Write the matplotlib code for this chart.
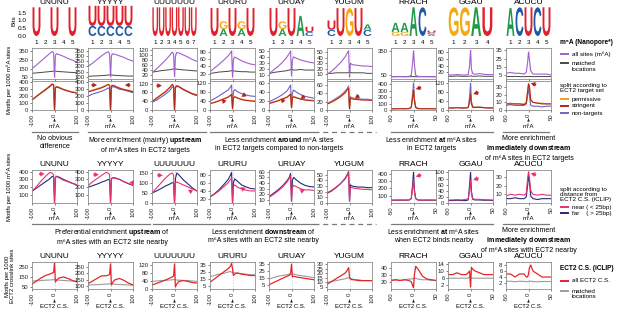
import matplotlib
matplotlib.use("Agg")
import matplotlib.pyplot as plt
from matplotlib.lines import Line2D
from matplotlib.textpath import TextPath
from matplotlib.patches import PathPatch, FancyArrowPatch
from matplotlib.font_manager import FontProperties
from matplotlib.transforms import Affine2D

plt.rcParams['font.family'] = ['Liberation Sans', 'DejaVu Sans']
plt.rcParams['mathtext.fontset'] = 'custom'
plt.rcParams['mathtext.rm'] = 'Liberation Sans'
plt.rcParams['mathtext.bf'] = 'Liberation Sans:bold'

W, H = 617, 313

MOTIFS = ["UNUNU", "YYYYY", "UUUUUUU", "URURU", "URUAY", "YUGUM", "RRACH", "GGAU", "ACUCU"]

# sequence logo stacks, bottom to top: (letter, bits)
LOGOS = [
    [[("U", 1.85)], [], [("U", 1.85)], [], [("U", 1.85)]],
    [[("C", 0.65), ("U", 1.3)]] * 5,
    [[("U", 1.85)]] * 7,
    [[("U", 1.8)], [("A", 0.45), ("G", 0.5)], [("U", 1.8)], [("A", 0.45), ("G", 0.5)], [("U", 1.8)]],
    [[("U", 1.8)], [("A", 0.45), ("G", 0.5)], [("U", 1.8)], [("A", 1.3)], [("C", 0.25), ("U", 0.35)]],
    [[("C", 0.4), ("U", 0.6)], [("U", 1.8)], [("G", 1.8)], [("U", 1.8)], [("C", 0.4), ("A", 0.35)]],
    [[("G", 0.25), ("A", 0.6)], [("G", 0.25), ("A", 0.6)], [("A", 1.85)], [("C", 1.85)],
     [("A", 0.1), ("C", 0.1), ("U", 0.15)]],
    [[("G", 1.85)], [("G", 1.85)], [("A", 1.85)], [("U", 1.85)]],
    [[("A", 1.8)], [("C", 1.85)], [("U", 1.85)], [("C", 1.85)], [("U", 1.85)]],
]
LETTER_COLORS = {"U": "#e0202a", "C": "#1d5aa6", "G": "#f5a90f", "A": "#1f9a48"}

XL = [-100, -80, -60, -40, -20, -10, -4, 0, 4, 10, 20, 40, 60, 80, 100]
XS = [-50, -40, -30, -20, -10, -5, -2, 0, 2, 5, 10, 20, 30, 40, 50]

# row 1, upper panels: all m6A sites vs matched locations
ALL_SITES = [
    [150, 190, 235, 280, 325, 345, 330, 50, 300, 320, 310, 290, 265, 245, 220],
    [200, 230, 265, 300, 330, 340, 320, 100, 300, 320, 315, 300, 285, 265, 250],
    [30, 45, 62, 80, 100, 112, 105, 15, 95, 110, 108, 100, 92, 82, 75],
    [25, 35, 45, 56, 68, 76, 82, 10, 60, 65, 62, 55, 50, 46, 44],
    [12, 18, 24, 31, 40, 46, 50, 8, 35, 40, 38, 35, 33, 31, 30],
    [10, 16, 23, 31, 41, 48, 52, 5, 30, 28, 27, 26, 25, 25, 24],
    [30, 30, 31, 30, 32, 45, 200, 350, 180, 45, 32, 30, 31, 30, 30],
    [12, 12, 13, 12, 12, 14, 40, 85, 30, 16, 14, 16, 14, 13, 13],
    [7, 8, 7, 7, 6, 8, 20, 33, 24, 10, 6, 6, 6, 6, 5],
]
MATCHED_M6A = [
    [95, 100, 105, 110, 115, 118, 120, 120, 120, 118, 115, 112, 108, 105, 100],
    [105, 108, 110, 112, 115, 118, 120, 120, 118, 117, 115, 112, 110, 108, 108],
    [32, 35, 38, 40, 42, 44, 45, 45, 45, 44, 43, 41, 40, 38, 37],
    [20, 22, 24, 25, 26, 27, 28, 28, 27, 27, 26, 25, 25, 24, 24],
    [12, 14, 15, 16, 17, 18, 19, 19, 19, 18, 18, 19, 18, 18, 18],
    [12, 12, 13, 13, 13, 13, 14, 14, 14, 13, 13, 13, 13, 12, 12],
    [28, 28, 29, 28, 28, 29, 30, 30, 29, 28, 28, 29, 28, 28, 28],
    [8, 8, 9, 8, 8, 8, 9, 9, 9, 8, 8, 9, 8, 8, 8],
    [3, 3, 3.2, 3, 2.8, 3, 3, 3.2, 3, 3, 2.9, 3, 3, 3, 3],
]

# row 1, lower panels: split by ECT2 target set
PERMISSIVE = [
    [150, 200, 250, 300, 350, 380, 370, 0, 330, 340, 330, 300, 280, 260, 250],
    [270, 290, 310, 330, 360, 375, 360, 0, 350, 360, 350, 320, 300, 285, 270],
    [40, 55, 70, 85, 105, 118, 110, 0, 105, 112, 108, 95, 85, 75, 70],
    [30, 35, 42, 50, 58, 65, 70, 5, 55, 60, 55, 48, 44, 42, 40],
    [15, 18, 21, 25, 29, 33, 36, 5, 28, 30, 28, 25, 23, 22, 21],
    [15, 20, 26, 33, 42, 50, 55, 3, 30, 28, 27, 26, 25, 25, 24],
    [20, 20, 21, 20, 22, 40, 200, 330, 150, 40, 22, 20, 21, 20, 20],
    [10, 10, 11, 10, 10, 12, 40, 75, 30, 14, 12, 13, 11, 10, 10],
    [8, 9, 8, 8, 8, 10, 25, 35, 32, 14, 10, 9, 9, 8, 8],
]
STRINGENT = [
    [145, 195, 245, 295, 345, 375, 365, 0, 325, 335, 325, 295, 275, 255, 245],
    [260, 280, 300, 320, 350, 370, 355, 0, 345, 355, 345, 315, 295, 280, 265],
    [38, 53, 68, 83, 103, 116, 108, 0, 103, 110, 106, 93, 83, 73, 68],
    [28, 33, 40, 48, 56, 63, 68, 5, 53, 58, 53, 46, 42, 40, 38],
    [14, 17, 20, 24, 28, 32, 35, 5, 27, 29, 27, 24, 22, 21, 20],
    [14, 19, 25, 32, 41, 49, 53, 3, 29, 27, 26, 25, 24, 24, 23],
    [19, 19, 20, 19, 21, 38, 190, 310, 140, 38, 21, 19, 20, 19, 19],
    [9, 9, 10, 9, 9, 11, 38, 72, 28, 13, 11, 12, 10, 9, 9],
    [8, 8, 8, 8, 7, 9, 24, 34, 31, 13, 10, 9, 8, 8, 8],
]
NON_TARGETS = [
    [150, 200, 245, 290, 340, 370, 360, 0, 320, 330, 320, 295, 275, 260, 250],
    [200, 230, 250, 270, 300, 320, 300, 0, 320, 340, 330, 300, 290, 270, 250],
    [35, 45, 58, 72, 90, 105, 100, 0, 100, 108, 105, 92, 82, 72, 65],
    [40, 50, 62, 75, 88, 100, 110, 10, 80, 90, 82, 72, 66, 62, 60],
    [18, 23, 28, 34, 42, 50, 55, 5, 38, 44, 40, 34, 30, 28, 26],
    [16, 21, 28, 35, 45, 52, 58, 3, 32, 30, 28, 27, 26, 26, 25],
    [22, 22, 23, 22, 24, 45, 250, 420, 180, 45, 24, 22, 23, 22, 22],
    [10, 10, 11, 10, 10, 12, 60, 120, 40, 14, 12, 13, 11, 10, 10],
    [6, 7, 6, 6, 6, 8, 18, 30, 20, 6, 5, 5, 4, 5, 5],
]

# row 2: split by distance from ECT2 crosslink site
NEAR = [
    [150, 210, 280, 340, 390, 380, 360, 0, 330, 340, 320, 290, 270, 250, 230],
    [220, 270, 310, 350, 390, 380, 360, 0, 310, 320, 315, 300, 270, 250, 230],
    [50, 75, 100, 125, 145, 150, 140, 0, 100, 105, 100, 90, 80, 70, 60],
    [25, 32, 40, 50, 60, 68, 72, 10, 50, 55, 50, 45, 42, 40, 40],
    [15, 20, 26, 33, 42, 48, 53, 8, 32, 36, 34, 30, 28, 28, 27],
    [18, 22, 28, 34, 42, 48, 53, 3, 28, 27, 26, 25, 24, 24, 23],
    [40, 40, 41, 40, 42, 60, 200, 320, 150, 60, 42, 40, 41, 40, 40],
    [10, 10, 11, 10, 12, 14, 40, 75, 30, 14, 12, 12, 11, 10, 10],
    [8, 10, 9, 10, 9, 11, 28, 36, 30, 14, 10, 9, 10, 9, 9],
]
FAR = [
    [150, 190, 230, 270, 310, 340, 330, 0, 320, 340, 330, 300, 275, 250, 230],
    [200, 220, 240, 265, 285, 300, 290, 0, 310, 320, 320, 300, 270, 245, 225],
    [50, 60, 72, 85, 95, 102, 100, 0, 120, 150, 140, 115, 95, 75, 60],
    [25, 33, 43, 55, 68, 78, 86, 10, 60, 70, 65, 55, 50, 46, 45],
    [16, 22, 28, 35, 44, 50, 57, 8, 45, 50, 46, 40, 36, 34, 33],
    [17, 21, 27, 34, 43, 50, 55, 3, 32, 30, 29, 28, 28, 27, 27],
    [38, 38, 39, 38, 40, 60, 250, 420, 180, 60, 40, 38, 39, 38, 38],
    [8, 8, 9, 8, 8, 10, 60, 100, 40, 12, 10, 10, 9, 9, 8],
    [5, 5, 6, 5, 5, 7, 20, 31, 25, 8, 5, 4, 5, 5, 5],
]

# row 3: around ECT2 crosslink sites
ALL_CS = [
    [80, 110, 140, 165, 180, 190, 195, 290, 100, 120, 140, 150, 135, 115, 100],
    [120, 140, 160, 180, 180, 185, 190, 270, 110, 130, 150, 160, 145, 125, 110],
    [20, 28, 36, 45, 55, 60, 65, 125, 10, 25, 38, 42, 38, 32, 30],
    [10, 15, 20, 25, 30, 33, 38, 30, 20, 22, 24, 22, 21, 20, 20],
    [6, 9, 12, 15, 18, 19, 22, 35, 17, 18, 17, 16, 15, 14, 13],
    [8, 11, 14, 17, 20, 23, 26, 16, 14, 13, 13, 12, 12, 12, 12],
    [22, 23, 22, 23, 22, 20, 15, 12, 30, 42, 38, 28, 24, 23, 22],
    [8, 8, 9, 8, 8, 9, 10, 1, 12, 11, 10, 9, 8, 8, 8],
    [5, 5, 4, 5, 5, 4, 4, 5, 7, 8, 6, 5, 4, 4, 4],
]
MATCHED_CS = [
    [110, 112, 115, 118, 120, 122, 123, 122, 122, 120, 118, 115, 112, 110, 108],
    [110, 112, 113, 115, 117, 118, 120, 120, 119, 118, 116, 114, 112, 110, 110],
    [38, 40, 42, 43, 45, 46, 47, 47, 46, 45, 44, 43, 42, 40, 38],
    [18, 20, 22, 23, 25, 26, 25, 24, 25, 24, 23, 23, 22, 21, 21],
    [14, 16, 18, 19, 20, 21, 21, 20, 21, 21, 20, 19, 18, 17, 16],
    [10, 11, 12, 13, 14, 15, 15, 14, 14, 14, 13, 13, 12, 12, 12],
    [22, 23, 22, 23, 24, 24, 25, 24, 25, 25, 24, 23, 23, 22, 22],
    [6, 6, 6, 6, 6, 6, 7, 6, 6, 6, 6, 6, 6, 6, 6],
    [2.5, 2.6, 2.4, 2.6, 2.5, 2.5, 2.4, 2.5, 2.6, 2.6, 2.5, 2.4, 2.5, 2.5, 2.5],
]

A_TICKS = [[50, 150, 250, 350], [100, 150, 200, 250, 300, 350], [20, 40, 60, 80, 100, 120],
           [20, 40, 60, 80], [10, 20, 30, 40, 50], [10, 20, 30, 40, 50], [50, 350],
           [20, 40, 60, 80], [5, 15, 25, 35]]
A_YLIM = [(30, 385), (80, 375), (5, 128), (5, 90), (3, 55), (2, 57), (0, 385), (0, 92), (0, 38)]
B_TICKS = [[0, 100, 200, 300, 400], [0, 100, 200, 300, 400], [0, 40, 80, 120], [0, 40, 80, 120],
           [0, 20, 40, 60], [0, 20, 40, 60], [0, 100, 200, 300, 400], [0, 40, 80, 120], [0, 10, 20, 30]]
B_YLIM = [(0, 420), (0, 420), (0, 132), (0, 128), (0, 64), (0, 70), (0, 450), (0, 130), (0, 38)]
C_TICKS = [[100, 200, 300, 400], [100, 200, 300, 400], [0, 50, 100, 150], [20, 40, 60, 80],
           [10, 20, 30, 40, 50, 60], [0, 10, 20, 30, 40, 50], [100, 200, 300, 400],
           [0, 20, 40, 60, 80, 100], [10, 20, 30]]
C_YLIM = [(0, 420), (0, 420), (0, 165), (10, 92), (5, 63), (0, 58), (0, 450), (0, 108), (0, 38)]
D_TICKS = [[50, 150, 250], [100, 150, 200, 250], [0, 40, 80, 120], [5, 15, 25, 35], [5, 15, 25, 35],
           [5, 10, 15, 20, 25, 30], [20, 30, 40], [2, 6, 10, 14], [2, 4, 6, 8]]
D_YLIM = [(30, 300), (80, 285), (0, 135), (0, 40), (0, 38), (3, 32), (10, 48), (0, 15), (0, 9)]

# small highlight arrows: (column, tip x, tip y, tail dx, tail dy) in axes fractions
ARROWS_B = [(1, 0.20, 0.86, -0.12, 0.0), (1, 0.82, 0.86, 0.12, 0.0), (2, 0.22, 0.84, -0.12, 0.0),
            (3, 0.26, 0.38, 0.07, -0.12), (3, 0.70, 0.45, 0.09, 0.10), (4, 0.26, 0.40, 0.07, -0.12),
            (4, 0.70, 0.38, 0.09, 0.10), (5, 0.62, 0.40, 0.09, 0.10), (6, 0.55, 0.72, 0.12, 0.06),
            (7, 0.56, 0.55, 0.12, 0.06), (8, 0.55, 0.92, 0.12, -0.05)]
ARROWS_C = [(0, 0.28, 0.88, -0.12, 0.0), (1, 0.24, 0.86, -0.12, 0.0), (1, 0.92, 0.62, 0.08, 0.0),
            (2, 0.24, 0.84, -0.12, 0.0), (2, 0.80, 0.40, 0.08, -0.06), (3, 0.68, 0.48, 0.08, -0.08),
            (4, 0.68, 0.42, 0.08, -0.08), (6, 0.55, 0.80, 0.12, 0.05), (7, 0.56, 0.70, 0.12, 0.05),
            (8, 0.55, 0.90, 0.12, -0.05)]

PURPLE = "#a260cc"
DARK = "#474747"
PERM_C = "#f39a2e"
STRING_C = "#b1271d"
NONT_C = "#6f62c6"
NEAR_C = "#e83270"
FAR_C = "#27287c"
CS_RED = "#e3262b"
GREY = "#9b9b9b"

COL_LEFT = [32, 88, 152, 210, 269, 327, 391, 448, 506]
COL_W = 45

fig = plt.figure(figsize=(W / 100, H / 100), dpi=100)


def fx(x):
    return x / W


def fy(y):
    return 1 - y / H


def px_axes(left, top, width, height):
    return fig.add_axes([left / W, 1 - (top + height) / H, width / W, height / H])


LOGO_FONT = FontProperties(family="Liberation Sans", weight="bold")


def draw_letter(ax, ch, x, y, h):
    tp = TextPath((0, 0), ch, size=1, prop=LOGO_FONT)
    bb = tp.get_extents()
    w = 0.88
    tr = Affine2D().translate(-bb.x0, -bb.y0).scale(w / bb.width, h / bb.height).translate(x - w / 2, y)
    ax.add_patch(PathPatch(tr.transform_path(tp), fc=LETTER_COLORS[ch], ec="none"))


def style_panel(ax, ticks, ylim, short, show_x):
    lim = 50 if short else 100
    ax.set_xlim(-lim, lim)
    ax.set_ylim(*ylim)
    ax.set_yticks(ticks)
    ax.set_xticks([-lim, 0, lim])
    if show_x:
        ax.set_xticklabels([f"-{lim}", "0", f"{lim}"], rotation=90)
    else:
        ax.set_xticklabels([])
    ax.tick_params(labelsize=4.3, length=1.5, width=0.4, pad=1, colors="#222222")
    for s in ax.spines.values():
        s.set_color("#8c8c8c")
        s.set_linewidth(0.6)
    ax.axvline(0, color="#c8c8c8", lw=0.5, ls=(0, (2, 2)), zorder=0)


def add_arrows(ax, arrows, col, color):
    for c, tx, ty, dx, dy in arrows:
        if c == col:
            ax.annotate("", xy=(tx, ty), xytext=(tx + dx, ty + dy), xycoords="axes fraction",
                        arrowprops=dict(arrowstyle="simple,head_width=0.9,head_length=0.8,tail_width=0.4",
                                        color=color, lw=0, mutation_scale=4, shrinkA=0, shrinkB=0),
                        annotation_clip=False)


def under_label(ax, bottom, text, extra=0):
    cx = ax.get_position().x0 + ax.get_position().width / 2
    fig.add_artist(FancyArrowPatch((cx, fy(bottom + 12 + extra)), (cx, fy(bottom + 6 + extra)),
                                   transform=fig.transFigure, arrowstyle="-|>",
                                   mutation_scale=3, lw=0.5, color="#222222"))
    fig.text(cx, fy(bottom + 16 + extra), text, ha="center", va="center", fontsize=4.3)


for i, motif in enumerate(MOTIFS):
    left = COL_LEFT[i]
    short = i >= 6
    x = XS if short else XL

    # logo
    n = len(LOGOS[i])
    axl = px_axes(left, 5, COL_W, 31)
    axl.set_xlim(0.5, n + 0.5)
    axl.set_ylim(0, 2)
    for p, stack in enumerate(LOGOS[i], start=1):
        base = 0
        for ch, h in stack:
            draw_letter(axl, ch, p, base, h)
            base += h
        axl.text(p, -0.45, str(p), ha="center", va="center", fontsize=4.5, clip_on=False)
    for s in axl.spines.values():
        s.set_visible(False)
    axl.set_xticks([])
    if i == 0:
        axl.set_yticks([0, 0.5, 1.0, 1.5])
        axl.set_yticklabels(["0.0", "0.5", "1.0", "1.5"])
        axl.tick_params(axis="y", labelsize=4.6, length=0, pad=4)
        axl.set_ylabel("Bits", fontsize=4.6, labelpad=1)
    else:
        axl.set_yticks([])
    fig.text(fx(left + COL_W / 2), fy(3), motif, ha="center", va="center", fontsize=6)

    # row 1 upper
    ax = px_axes(left, 48, COL_W, 31)
    ax.plot(x, MATCHED_M6A[i], color=DARK, lw=0.7)
    ax.plot(x, ALL_SITES[i], color=PURPLE, lw=0.8)
    style_panel(ax, A_TICKS[i], A_YLIM[i], short, False)

    # row 1 lower
    ax = px_axes(left, 81, COL_W, 29)
    ax.plot(x, NON_TARGETS[i], color=NONT_C, lw=0.8)
    ax.plot(x, PERMISSIVE[i], color=PERM_C, lw=0.8)
    ax.plot(x, STRINGENT[i], color=STRING_C, lw=0.8)
    style_panel(ax, B_TICKS[i], B_YLIM[i], short, True)
    add_arrows(ax, ARROWS_B, i, STRING_C)
    under_label(ax, 110, "m⁶A")

    # row 2
    ax = px_axes(left, 170, COL_W, 33)
    ax.plot(x, FAR[i], color=FAR_C, lw=0.8)
    ax.plot(x, NEAR[i], color=NEAR_C, lw=0.8)
    style_panel(ax, C_TICKS[i], C_YLIM[i], short, True)
    add_arrows(ax, ARROWS_C, i, NEAR_C)
    fig.text(fx(left + COL_W / 2), fy(165), motif, ha="center", va="center", fontsize=6)
    under_label(ax, 203, "m⁶A")

    # row 3
    ax = px_axes(left, 262, COL_W, 27)
    ax.plot(x, MATCHED_CS[i], color=GREY, lw=0.8)
    ax.plot(x, ALL_CS[i], color=CS_RED, lw=0.9)
    style_panel(ax, D_TICKS[i], D_YLIM[i], short, True)
    fig.text(fx(left + COL_W / 2), fy(257), motif, ha="center", va="center", fontsize=6)
    under_label(ax, 288, "ECT2 C.S.", extra=3)

# y labels
fig.text(fx(9), fy(80), "Motifs per 1000 m⁶A sites", rotation=90, ha="center", va="center", fontsize=4.3)
fig.text(fx(9), fy(187), "Motifs per 1000 m⁶A sites", rotation=90, ha="center", va="center", fontsize=4.3)
fig.text(fx(10), fy(276), "Motifs per 1000\nECT2 crosslink sites", rotation=90, ha="center", va="center",
         fontsize=4.3, linespacing=1.0)


def hline(x0, x1, y, dashed=False):
    fig.add_artist(Line2D([fx(x0), fx(x1)], [fy(y), fy(y)], transform=fig.transFigure, color="#7a7a7a",
                          lw=0.9, ls=(0, (4, 3)) if dashed else "-"))


def note(xc, y, text):
    fig.text(fx(xc), fy(y), text, ha="center", va="top", fontsize=5, linespacing=1.15)


# row 1 interpretations
hline(32, 78, 132)
note(55, 135, "No obvious\ndifference")
hline(88, 206, 132)
note(145, 135, "More enrichment (mainly) $\\bf{upstream}$\nof m⁶A sites in ECT2 targets")
hline(210, 314, 132)
hline(314, 376, 132, dashed=True)
note(279, 135, "Less enrichment $\\bf{around}$ m⁶A sites\nin ECT2 targets compared to non-targets")
hline(391, 493, 132)
note(432, 135, "Less enrichment $\\bf{at}$ m⁶A sites\nin ECT2 targets")
hline(503, 549, 132)
note(529, 135, "More enrichment\n$\\bf{immediately\\ downstream}$\nof m⁶A sites in ECT2 targets")

# row 2 interpretations
hline(32, 150, 224)
note(112, 227, "Preferential enrichment $\\bf{upstream}$ of\nm⁶A sites with an ECT2 site nearby")
hline(153, 314, 224)
hline(314, 376, 224, dashed=True)
note(263, 227, "Less enrichment $\\bf{downstream}$ of\nm⁶A sites with an ECT2 site nearby")
hline(391, 493, 224)
note(434, 227, "Less enrichment $\\bf{at}$ m⁶A sites\nwhen ECT2 binds nearby")
hline(503, 549, 224)
note(529, 227, "More enrichment\n$\\bf{immediately\\ downstream}$\nof m⁶A sites with ECT2 nearby")


def legend_line(y, color, text, x=561):
    fig.add_artist(Line2D([fx(x), fx(x + 7)], [fy(y), fy(y)], transform=fig.transFigure, color=color, lw=1.4))
    fig.text(fx(x + 11), fy(y), text, ha="left", va="center", fontsize=4.5, linespacing=1.1)


fig.text(fx(560), fy(43), "m⁶A (Nanopore*)", ha="left", va="center", fontsize=4.7, fontweight="bold")
legend_line(54, PURPLE, "all sites (m⁶A)")
fig.text(fx(572), fy(66.5), "matched\nlocations", ha="left", va="center", fontsize=4.5, linespacing=1.1)
fig.add_artist(Line2D([fx(561), fx(568)], [fy(63), fy(63)], transform=fig.transFigure, color=DARK, lw=1.4))
fig.text(fx(560), fy(88), "split according to\nECT2 target set", ha="left", va="center", fontsize=4.5,
         linespacing=1.1)
legend_line(99, PERM_C, "permissive")
legend_line(106, STRING_C, "stringent")
legend_line(113, NONT_C, "non-targets")

fig.text(fx(560), fy(195), "split according to\ndistance from\nECT2 C.S. (iCLIP)", ha="left", va="center",
         fontsize=4.5, linespacing=1.0)
legend_line(207, NEAR_C, "near ( < 25bp)")
legend_line(213, FAR_C, "far    ( > 25bp)")

fig.text(fx(560), fy(268), "ECT2 C.S. (iCLIP)", ha="left", va="center", fontsize=4.7, fontweight="bold")
legend_line(281, CS_RED, "all ECT2 C.S.")
fig.text(fx(572), fy(294), "matched\nlocations", ha="left", va="center", fontsize=4.5, linespacing=1.1)
fig.add_artist(Line2D([fx(561), fx(568)], [fy(291), fy(291)], transform=fig.transFigure, color=GREY, lw=1.4))

fig.savefig("out.png", dpi=100)
